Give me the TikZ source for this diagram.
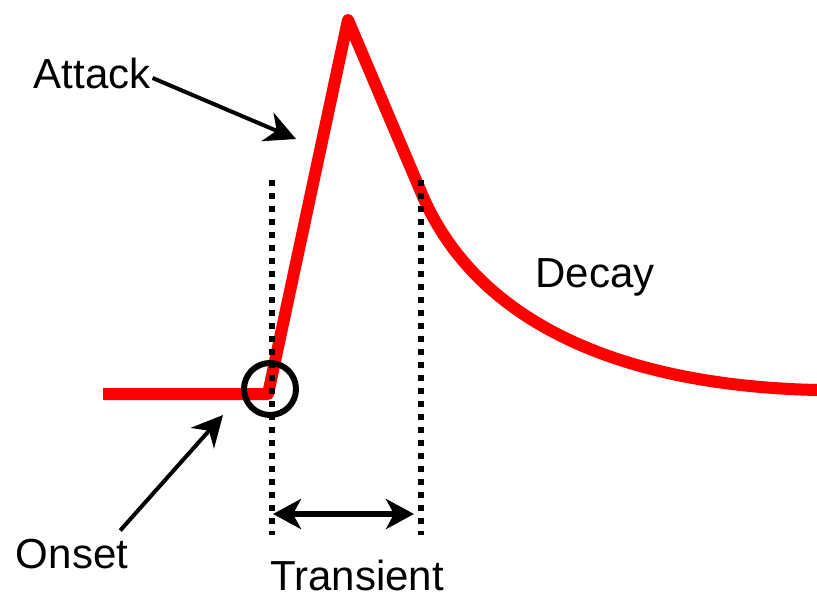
\documentclass[tikz,border=0pt]{standalone}
\usepackage{fontspec}
\setmainfont{Liberation Sans}
\usetikzlibrary{arrows.meta}
\definecolor{sig}{HTML}{FF0000}
\definecolor{ink}{HTML}{000000}

\begin{document}
\begin{tikzpicture}[x=1pt,y=-1pt,every node/.style={font=\fontsize{42}{48}\selectfont,text=ink,inner sep=0pt},
  wave/.style={draw=sig,line width=12pt,line join=round},
  dotln/.style={draw=ink,line width=6pt,dash pattern=on 6pt off 7pt},
  ring/.style={draw=ink,line width=6pt},
  pt/.style={-{Stealth[length=31pt,width=31pt,inset=10pt]},line width=4pt,ink},
  span/.style={{Stealth[length=28pt,width=30pt,inset=8pt]}-{Stealth[length=28pt,width=30pt,inset=8pt]},line width=6.5pt,ink}]
  \useasboundingbox (0,0) rectangle (817,598);
  % signal
  \draw[wave] (103,394) -- (268,394) -- (348,20) -- (421,192)
    .. controls (470,310) and (600,385) .. (817,390);
  % transient limits
  \coordinate (lt) at (272,180); \coordinate (lb) at (272,535);
  \coordinate (rt) at (421,180); \coordinate (rb) at (421,535);
  \draw[dotln] (lt) -- (lb);
  \draw[dotln] (rt) -- (rb);
  \node[ring,circle,minimum size=52pt] (on) at (270,389) {};
  % labels
  \node[anchor=base] (attack) at (92,88) {Attack};
  \node[anchor=base] (decay) at (595,287) {Decay};
  \node[anchor=base] (onset) at (72,568) {Onset};
  \node[anchor=base] (trans) at (357,590) {Transient};
  \coordinate (atip) at (296,139);
  \coordinate (otip) at (223,415);
  \coordinate (sl) at (273,514); \coordinate (sr) at (414,514);
  \draw[pt] ([xshift=2pt,yshift=-5pt]attack.east) -- (atip);
  \draw[pt] ([xshift=-8pt,yshift=8pt]onset.north east) -- (otip);
  \draw[span] (sl) -- (sr);
\end{tikzpicture}
\end{document}
